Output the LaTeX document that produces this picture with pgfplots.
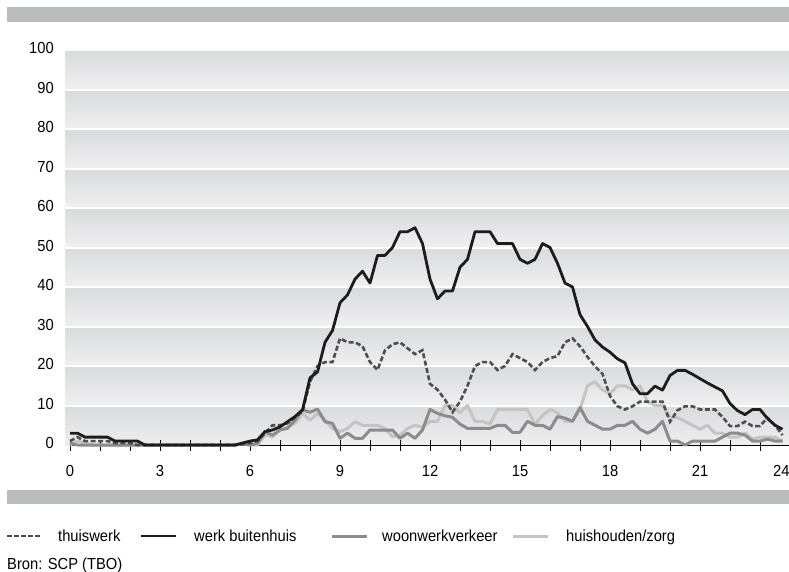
\documentclass[border=0pt]{standalone}
\usepackage{fontspec}
\setmainfont{Liberation Sans}[FakeStretch=0.92]
\usepackage{pgfplots}
\pgfplotsset{compat=1.18}
\usepackage{pgfplotstable}
\definecolor{barcol}{HTML}{BBBCBF}
\definecolor{bandtop}{HTML}{DADBDD}
\definecolor{bandbot}{HTML}{EFEFF0}
\definecolor{cblack}{HTML}{1C1C1C}
\definecolor{cdash}{HTML}{4E4E4E}
\definecolor{cmed}{HTML}{8C8C8C}
\definecolor{clight}{HTML}{C4C4C4}

\pgfplotstableread{
t     thuis werk woon huis
0.00  1     3    0.5  0
0.25  2     3    0    1
0.50  1     2    0    0.5
0.75  1     2    0    0
1.00  1     2    0    0
1.25  1     2    0    0
1.50  0.5   1    0    0
1.75  0.5   1    0    0
2.00  0.5   1    0    0
2.25  0     1    0    0
2.50  0     0    0    0
2.75  0     0    0    0
3.00  0     0    0    0
3.25  0     0    0    0
3.50  0     0    0    0
3.75  0     0    0    0
4.00  0     0    0    0
4.25  0     0    0    0
4.50  0     0    0    0
4.75  0     0    0    0
5.00  0     0    0    0
5.25  0     0    0    0
5.50  0     0    0    0
5.75  0.3   0.5  0.3  0.3
6.00  0.5   1    0    0
6.25  1     1.3  0.4  0
6.50  3     3.4  3.4  2.5
6.75  5     3.8  2.5  2.1
7.00  5     4.6  3.8  3.8
7.25  5.5   5.9  4.2  4.6
7.50  7     7.2  6.3  5.5
7.75  8.5   8.9  8.9  8
8.00  16    17   8.3  6.3
8.25  20    18.5 9.1  8
8.50  21    26   5.9  6.3
8.75  21    29   5.5  4.2
9.00  27    36   1.7  3.4
9.25  26    38   3    4.2
9.50  26    42   1.7  5.9
9.75  25    44   1.7  5
10.00 21    41   3.8  5
10.25 19    48   3.8  5
10.50 24    48   3.8  4.2
10.75 25.5  50   3.8  2.1
11.00 26    54   1.7  2.5
11.25 24.5  54   3    4.2
11.50 23    55   1.7  5
11.75 24    51   3.8  4.5
12.00 15.5  42   9    6
12.25 14    37   8    6
12.50 11.5  39   7.4  10
12.75 8.3   39   7    10
13.00 11    45   5.3  8.2
13.25 15    47   4.2  10
13.50 20    54   4.2  6
13.75 21    54   4.2  6
14.00 21    54   4.2  5.3
14.25 19    51   5    9
14.50 20    51   5    9
14.75 23    51   3.2  9
15.00 22    47   3.2  9
15.25 21    46   6    9
15.50 19    47   5    5.3
15.75 21    51   5    7.4
16.00 22    50   4    9
16.25 22.5  46   7.2  8.2
16.50 26    41   6.8  6
16.75 27    40   6    6
17.00 25    33   9.5  9
17.25 22.3  30   6    15
17.50 19.9  26.6 5    16
17.75 18    24.8 4    14
18.00 12.4  23.5 4    13
18.25 9.8   21.8 5    15
18.50 9     20.8 5    15
18.75 9.8   15.5 6    14
19.00 11    13   4    15
19.25 11    13   3    11
19.50 11    14.9 4    10
19.75 11    13.9 6    10
20.00 5.9   17.6 1    7
20.25 8.8   18.9 1    7
20.50 9.8   18.9 0    6
20.75 9.8   17.9 1    5
21.00 9     16.8 1    4
21.25 9     15.7 1    5
21.50 9     14.7 1    3
21.75 7.1   13.7 2    3
22.00 4.8   10.5 3    2
22.25 4.8   8.7  3    2
22.50 5.9   7.7  2.5  3
22.75 4.8   9    1    1.5
23.00 4.8   9    1    2
23.25 6.9   6.7  1.5  2
23.50 5     5    1    2
23.75 2.5   4    1    1
}\data

\begin{document}
\begin{tikzpicture}
\path[use as bounding box, fill=white] (0pt,0pt) rectangle (789pt,-571pt);
\fill[barcol] (7pt,-7pt) rectangle (789pt,-22pt);
\fill[barcol] (7pt,-490pt) rectangle (789pt,-504pt);
\foreach \k in {0,...,9}{
  \pgfmathsetmacro{\yb}{-445+39.5*\k+(\k>0?1.5:0)}
  \pgfmathsetmacro{\yt}{-445+39.5*(\k+1)-1.5}
  \shade[top color=bandtop,bottom color=bandbot] (65pt,\yb pt) rectangle (789pt,\yt pt);
}
\begin{axis}[
  at={(70pt,-445pt)}, anchor=south west,
  scale only axis, width=720pt, height=395pt,
  xmin=0, xmax=24, ymin=0, ymax=100,
  axis x line*=bottom, axis y line*=left,
  x axis line style={black, line width=1pt, -},
  y axis line style={draw=none},
  xtick={0,3,...,24}, minor xtick={0,1,...,24},
  xticklabels={0,3,6,9,12,15,18,21,{\llap{24\hspace{0.5pt}}}},
  ytick={0,10,...,100},
  tick align=center, major tick length=11pt, minor tick length=11pt,
  xtick style={black, line width=0.9pt},
  minor x tick style={black, line width=0.9pt},
  ytick style={draw=none},
  ticklabel style={font=\fontsize{16}{18}\selectfont, inner sep=0pt},
  /pgf/number format/assume math mode=true,
  xticklabel style={anchor=north, yshift=-15pt},
  yticklabel style={anchor=base east, xshift=-10.5pt, yshift=-3.5pt},
  clip=false,
]
\addplot[clight, line width=3pt, line join=round] table[x=t, y=huis] {\data};
\addplot[cmed, line width=3pt, line join=round] table[x=t, y=woon] {\data};
\addplot[cdash, line width=2.6pt, dash pattern=on 5pt off 2.5pt] table[x=t, y=thuis] {\data};
\addplot[cblack, line width=2.8pt, line join=round] table[x=t, y=werk] {\data};
\end{axis}
\begin{scope}[every node/.style={anchor=base west, inner sep=0pt, font=\fontsize{16}{18}\selectfont}]
\draw[cdash, line width=2.6pt, dash pattern=on 4.5pt off 2.5pt] (7pt,-536pt) -- (42pt,-536pt);
\node at (58pt,-541.5pt) {thuiswerk};
\draw[cblack, line width=2.8pt] (141pt,-536pt) -- (176pt,-536pt);
\node at (194pt,-541.5pt) {werk buitenhuis};
\draw[cmed, line width=3pt] (332pt,-536pt) -- (367pt,-536pt);
\node at (382pt,-541.5pt) {woonwerkverkeer};
\draw[clight, line width=3pt] (513pt,-536pt) -- (548pt,-536pt);
\node at (566pt,-541.5pt) {huishouden/zorg};
\node at (7pt,-569pt) {Bron: SCP (TBO)};
\end{scope}
\end{tikzpicture}
\end{document}
